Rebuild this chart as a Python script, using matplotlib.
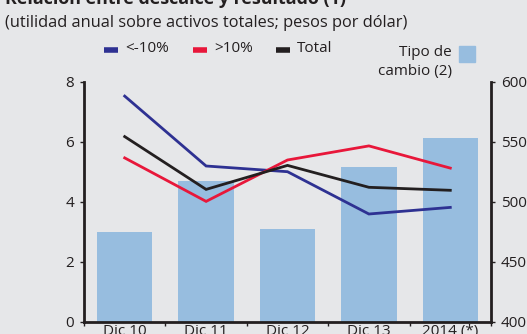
import matplotlib
matplotlib.use("Agg")
import matplotlib.pyplot as plt
from matplotlib.patches import Rectangle
from matplotlib.lines import Line2D

plt.rcParams['font.family'] = ['Open Sans', 'DejaVu Sans']

categories = ["Dic 10", "Dic 11", "Dic 12", "Dic 13", "2014 (*)"]
neg_10 = [7.52, 5.19, 5.00, 3.59, 3.81]      # <-10%
pos_10 = [5.46, 4.01, 5.39, 5.86, 5.12]      # >10%
total = [6.17, 4.41, 5.21, 4.48, 4.38]       # Total
tipo_cambio = [475, 517, 477, 529, 553]      # Tipo de cambio (2)

left_ticks = [0, 2, 4, 6, 8]
right_ticks = [400, 450, 500, 550, 600]

BG = "#e6e7e9"
BAR = "#97bddf"
BLUE = "#2e3192"
RED = "#e8173a"
BLACK = "#231f20"
TXT = "#231f20"

W, H = 527, 334
fig = plt.figure(figsize=(W / 100, H / 100), dpi=100)
fig.patch.set_facecolor(BG)

def fx(x):
    return x / W

def fy(y):
    return 1 - y / H

ax_l, ax_r, ax_t, ax_b = 84, 491, 81.7, 321.7
ax = fig.add_axes([fx(ax_l), fy(ax_b), fx(ax_r - ax_l), (ax_b - ax_t) / H])
ax.set_facecolor(BG)
ax2 = ax.twinx()

x = list(range(len(categories)))
ax2.bar(x, tipo_cambio, width=0.68, color=BAR, zorder=1)
ax2.set_ylim(400, 600)
ax2.set_yticks(right_ticks)
ax2.set_yticklabels([str(t) for t in right_ticks], fontsize=11, color=TXT)

ax.set_zorder(ax2.get_zorder() + 1)
ax.patch.set_visible(False)
for vals, col in [(neg_10, BLUE), (pos_10, RED), (total, BLACK)]:
    ax.plot(x, vals, color=col, lw=2.0, solid_joinstyle="miter")

ax.set_xlim(-0.5, len(categories) - 0.5)
ax.set_ylim(0, 8)
ax.set_yticks(left_ticks)
ax.set_yticklabels([str(t) for t in left_ticks], fontsize=11, color=TXT)

ax.set_xticks([i + 0.5 for i in range(-1, len(categories))], minor=False)
ax.set_xticklabels([])
ax.set_xticks(x, minor=True)
ax.set_xticklabels(categories, minor=True, fontsize=11, color=TXT)
ax.tick_params(axis="x", which="major", length=3, width=1, direction="out", color=BLACK)
ax.tick_params(axis="x", which="minor", length=0, pad=2)
ax.tick_params(axis="y", length=3, width=1, color=BLACK, pad=4)
ax2.tick_params(axis="y", length=3, width=1, color=BLACK, pad=4)

for a in (ax, ax2):
    for s in a.spines.values():
        s.set_visible(False)
ax.spines["left"].set_visible(True)
ax.spines["bottom"].set_visible(True)
ax2.spines["right"].set_visible(True)
for s in (ax.spines["left"], ax.spines["bottom"], ax2.spines["right"]):
    s.set_linewidth(2)
    s.set_color(BLACK)

# Titles
fig.text(fx(5), fy(3.8), "Relación entre descalce y resultado (1)", fontsize=12.9,
         fontweight="bold", color=TXT, ha="left", va="baseline")
fig.text(fx(5), fy(26.7), "(utilidad anual sobre activos totales; pesos por dólar)",
         fontsize=11.8, color=TXT, ha="left", va="baseline")

# Legend
for x0, label, col in [(104, "<-10%", BLUE), (193, ">10%", RED), (276, "Total", BLACK)]:
    fig.add_artist(Line2D([fx(x0), fx(x0 + 14)], [fy(50), fy(50)], color=col, lw=4,
                          solid_capstyle="butt"))
    fig.text(fx(x0 + 21), fy(49), label, fontsize=11, color=TXT, ha="left", va="center")

fig.text(fx(452), fy(53), "Tipo de", fontsize=11, color=TXT, ha="right", va="center")
fig.text(fx(452), fy(72), "cambio (2)", fontsize=11, color=TXT, ha="right", va="center")
fig.add_artist(Rectangle((fx(459), fy(62)), fx(16), 16 / H, color=BAR))

fig.savefig("out.png", dpi=100, facecolor=BG)
